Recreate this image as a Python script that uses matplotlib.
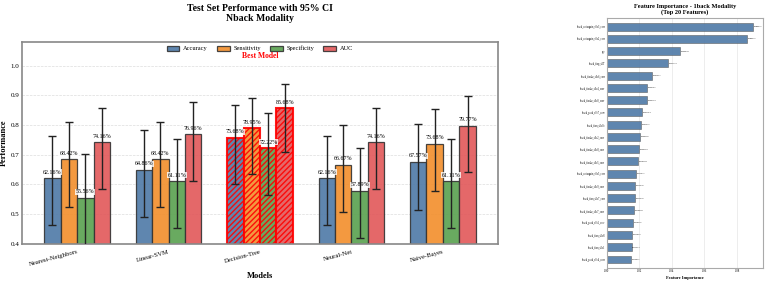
import matplotlib
matplotlib.use("Agg")
import matplotlib.pyplot as plt
import numpy as np

plt.rcParams['font.family'] = ['Liberation Serif', 'DejaVu Serif']

models = ["Nearest-Neighbors", "Linear-SVM", "Decision-Tree", "Neural-Net", "Naive-Bayes"]
metrics = ["Accuracy", "Sensitivity", "Specificity", "AUC"]
accuracy = [0.6216, 0.6486, 0.7568, 0.6216, 0.6757]
sensitivity = [0.6842, 0.6842, 0.7895, 0.6667, 0.7368]
specificity = [0.5556, 0.6111, 0.7222, 0.5789, 0.6111]
auc = [0.7416, 0.7696, 0.8568, 0.7416, 0.7977]
acc_lo = [0.462, 0.489, 0.600, 0.462, 0.515]
acc_hi = [0.762, 0.783, 0.867, 0.762, 0.805]
sen_lo = [0.524, 0.524, 0.636, 0.507, 0.578]
sen_hi = [0.811, 0.811, 0.892, 0.799, 0.853]
spe_lo = [0.390, 0.453, 0.564, 0.421, 0.453]
spe_hi = [0.703, 0.752, 0.841, 0.724, 0.752]
auc_lo = [0.584, 0.612, 0.711, 0.584, 0.641]
auc_hi = [0.856, 0.878, 0.937, 0.856, 0.897]
best_model = "Decision-Tree"

feat_names = [
    "nback_coinagain_s0c3_corr", "nback_coinagain_s0c2_corr", "age", "nback_fixp_s0T",
    "nback_fixdur_s0c6_corr", "nback_fixdur_s0c4_corr", "nback_fixdur_s0c0_corr",
    "nback_peak_s0c7_corr", "nback_fixn_s0c0c", "nback_fixdur_s0c2_corr",
    "nback_fixdur_s0c8_corr", "nback_fixdur_s0c5_corr", "nback_coinagain_s0c5_corr",
    "nback_fixdur_s0c9_corr", "nback_fixn_s0c7_corr", "nback_fixdur_s0c7_corr",
    "nback_peak_s0c6_corr", "nback_fixn_s0c8", "nback_fixn_s0c1", "nback_peak_s0c4_corr",
]
feat_imp = [0.089907, 0.086207, 0.044908, 0.037530, 0.027697, 0.024787, 0.024510,
            0.021564, 0.021207, 0.020326, 0.020000, 0.019034, 0.017935, 0.017456,
            0.017276, 0.016628, 0.016357, 0.015802, 0.015223, 0.014801]

colors = ["#4e79a7", "#f28e2b", "#59a14f", "#e15759"]

fig = plt.figure(figsize=(7.67, 2.81), dpi=100)
ax = fig.add_axes([0.029, 0.132, 0.620, 0.719])
ax2 = fig.add_axes([0.791, 0.046, 0.204, 0.890])

vals = [accuracy, sensitivity, specificity, auc]
los = [acc_lo, sen_lo, spe_lo, auc_lo]
his = [acc_hi, sen_hi, spe_hi, auc_hi]
x = np.arange(len(models))
w = 0.18
for i, m in enumerate(metrics):
    pos = x + (i - 1.5) * w
    v = np.array(vals[i])
    lo = np.array(los[i]); hi = np.array(his[i])
    for j in range(len(models)):
        best = models[j] == best_model
        ax.bar(pos[j], v[j], w, bottom=0, color=colors[i], alpha=0.9,
               edgecolor="red" if best else "#333333",
               linewidth=1.5 if best else 0.9,
               hatch="//////" if best else None,
               label=m if j == 0 else None, zorder=2)
        ax.text(pos[j], v[j] + 0.012, f"{v[j]*100:.2f}%", ha="center", va="bottom",
                fontsize=4.3, zorder=3,
                bbox=dict(boxstyle="square,pad=0.1", fc="white", ec="none", alpha=0.8))
    ax.errorbar(pos, v, yerr=[v - lo, hi - v], fmt="none", ecolor="#222222",
                elinewidth=1.0, capsize=3, capthick=1.0, zorder=4)

ax.set_ylim(0.4, 1.08)
ax.set_xlim(-0.6, 4.6)
ax.set_yticks([0.4, 0.5, 0.6, 0.7, 0.8, 0.9, 1.0])
ax.tick_params(axis="y", labelsize=5, length=0, pad=2)
ax.tick_params(axis="x", labelsize=4.8, length=0, pad=4)
ax.set_xticks(x)
ax.set_xticklabels(models, rotation=15, ha="right", rotation_mode="anchor")
ax.set_ylabel("Performance", fontsize=6, fontweight="bold", labelpad=2)
ax.set_xlabel("Models", fontsize=6, fontweight="bold", labelpad=3)
ax.grid(axis="y", color="#dddddd", linestyle="--", linewidth=0.5, zorder=0)
ax.set_axisbelow(True)
for s in ax.spines.values():
    s.set_color("#888888"); s.set_linewidth(1.2)
leg = ax.legend(loc="upper center", ncol=4, frameon=False, fontsize=4.6,
                bbox_to_anchor=(0.5, 1.01), handlelength=2.0, handleheight=0.9,
                columnspacing=1.4, handletextpad=0.6)
ax.text(2, 1.034, "Best Model", color="red", fontsize=5.5, fontweight="bold",
        ha="center", va="center")
fig.text(0.339, 0.985, "Test Set Performance with 95% CI\nNback Modality", ha="center",
         va="top", fontsize=7, fontweight="bold", linespacing=1.05)

# Feature importance
y = np.arange(len(feat_names))
ax2.barh(y, feat_imp, height=0.65, color="#4e79a7", edgecolor="#555555", linewidth=0.4,
         alpha=0.9, zorder=2)
for yi, val in zip(y, feat_imp):
    ax2.text(val + 0.0005, yi, f"{val:.6f}", fontsize=1.6, va="center", ha="left")
ax2.set_yticks(y)
ax2.set_yticklabels(feat_names, fontsize=1.8)
ax2.set_ylim(len(feat_names) - 0.3, -0.7)
ax2.set_xlim(0, 0.096)
ax2.set_xticks([0.0, 0.02, 0.04, 0.06, 0.08])
ax2.set_xticklabels(["0.00", "0.02", "0.04", "0.06", "0.08"])
ax2.tick_params(axis="x", labelsize=2.2, length=0, pad=1)
ax2.tick_params(axis="y", length=0, pad=1)
ax2.grid(axis="x", color="#e6e6e6", linewidth=0.5, zorder=0)
ax2.set_axisbelow(True)
for s in ax2.spines.values():
    s.set_color("#aaaaaa"); s.set_linewidth(0.8)
ax2.set_xlabel("Feature Importance", fontsize=3.2, fontweight="bold", labelpad=1.5)
ax2.set_title("Feature Importance - 1back Modality\n(Top 20 Features)", fontsize=4.6,
              fontweight="bold", pad=3, linespacing=1.0)

fig.savefig("out.png", dpi=100)
